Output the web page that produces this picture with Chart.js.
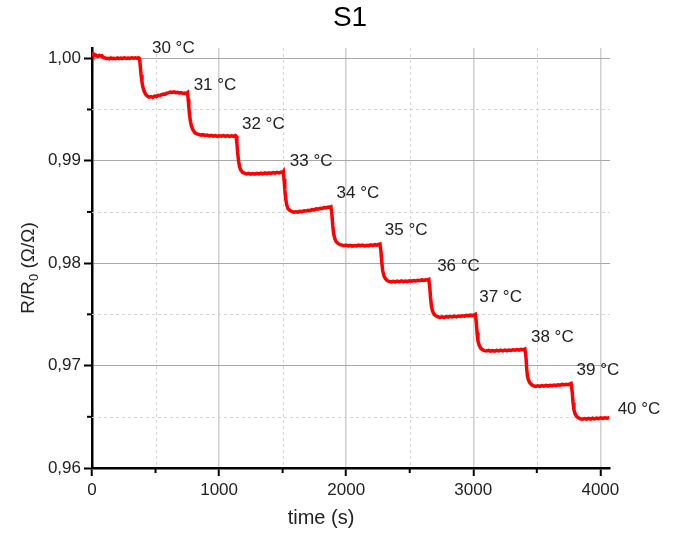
<!DOCTYPE html>
<html>
<head>
<meta charset="utf-8">
<script src="https://cdn.jsdelivr.net/npm/chart.js@4.4.0/dist/chart.umd.min.js"></script>
<style>
  html, body { margin: 0; padding: 0; background: #fff; }
  #wrap { width: 680px; height: 533px; }
</style>
</head>
<body>
<div id="wrap"><canvas id="s1Chart" width="680" height="533"></canvas></div>
<script>
// time (s) and normalised resistance
const timeS = [
  0, 6, 12, 20, 28, 36, 46, 56, 66, 78, 88, 100, 112, 124, 136, 148, 160, 172, 186, 200,
  214, 228, 242, 256, 270, 284, 298, 312, 326, 340, 354, 366, 374,
  380, 386, 393, 400, 410, 422, 436, 450, 464, 478, 492, 506, 520, 534, 548, 562, 576,
  590, 604, 618, 632, 646, 660, 674, 688, 702, 716, 730, 742, 752,
  757, 762, 768, 775, 783, 795, 810, 826, 842, 858, 874, 890, 906, 922, 938, 954, 970,
  986, 1002, 1018, 1034, 1050, 1066, 1082, 1098, 1114, 1128, 1134,
  1140, 1146, 1153, 1161, 1172, 1186, 1200, 1216, 1232, 1248, 1264, 1280, 1296, 1312,
  1328, 1344, 1360, 1376, 1392, 1408, 1424, 1440, 1456, 1472, 1488, 1502, 1506,
  1511, 1517, 1524, 1532, 1543, 1556, 1572, 1588, 1604, 1620, 1636, 1652, 1668, 1684,
  1700, 1716, 1732, 1748, 1764, 1780, 1796, 1812, 1828, 1844, 1858, 1870, 1880,
  1888, 1894, 1901, 1910, 1922, 1936, 1952, 1968, 1984, 2000, 2016, 2032, 2048, 2064,
  2080, 2096, 2112, 2128, 2144, 2160, 2176, 2192, 2208, 2224, 2240, 2254, 2266,
  2274, 2280, 2287, 2296, 2308, 2322, 2338, 2354, 2370, 2386, 2402, 2418, 2434, 2450,
  2466, 2482, 2498, 2514, 2530, 2546, 2562, 2578, 2594, 2610, 2626, 2640, 2650,
  2658, 2664, 2671, 2680, 2692, 2706, 2722, 2738, 2754, 2770, 2786, 2802, 2818, 2834,
  2850, 2866, 2882, 2898, 2914, 2930, 2946, 2962, 2978, 2994, 3008, 3016,
  3024, 3030, 3037, 3046, 3058, 3072, 3088, 3104, 3120, 3136, 3152, 3168, 3184, 3200,
  3216, 3232, 3248, 3264, 3280, 3296, 3312, 3328, 3344, 3360, 3376, 3392, 3406,
  3415, 3420, 3426, 3434, 3446, 3460, 3476, 3492, 3508, 3524, 3540, 3556, 3572, 3588,
  3604, 3620, 3636, 3652, 3668, 3684, 3700, 3716, 3732, 3748, 3762, 3770,
  3779, 3785, 3792, 3801, 3813, 3827, 3843, 3859, 3875, 3891, 3907, 3923, 3939, 3955,
  3971, 3987, 4003, 4019, 4035, 4051, 4070
];
const ratio = [
  1.00060, 1.00045, 1.00040, 1.00030, 1.00032, 1.00022, 1.00018, 1.00028, 1.00020, 1.00024,
  1.00010, 1.00004, 0.99998, 1.00000, 0.99994, 1.00002, 0.99996, 1.00000, 0.99995, 1.00003,
  0.99997, 1.00002, 0.99998, 1.00004, 0.99999, 1.00003, 0.99998, 1.00004, 1.00000, 1.00005,
  0.99999, 1.00004, 0.99996,
  0.99920, 0.99840, 0.99770, 0.99720, 0.99680, 0.99648, 0.99630, 0.99620, 0.99625, 0.99618,
  0.99630, 0.99626, 0.99638, 0.99634, 0.99645, 0.99650, 0.99648, 0.99660, 0.99664, 0.99670,
  0.99666, 0.99672, 0.99664, 0.99668, 0.99660, 0.99664, 0.99656, 0.99660, 0.99654, 0.99664,
  0.99600, 0.99520, 0.99440, 0.99380, 0.99335, 0.99300, 0.99272, 0.99262, 0.99256, 0.99250,
  0.99254, 0.99246, 0.99250, 0.99242, 0.99248, 0.99240, 0.99246, 0.99238, 0.99244, 0.99240,
  0.99246, 0.99238, 0.99244, 0.99236, 0.99242, 0.99238, 0.99246, 0.99240,
  0.99170, 0.99080, 0.99000, 0.98940, 0.98905, 0.98885, 0.98878, 0.98870, 0.98876, 0.98868,
  0.98874, 0.98868, 0.98876, 0.98870, 0.98878, 0.98872, 0.98880, 0.98874, 0.98882, 0.98876,
  0.98884, 0.98878, 0.98886, 0.98880, 0.98888, 0.98882, 0.98890,
  0.98820, 0.98720, 0.98630, 0.98570, 0.98530, 0.98515, 0.98504, 0.98498, 0.98502, 0.98498,
  0.98506, 0.98502, 0.98510, 0.98508, 0.98516, 0.98512, 0.98522, 0.98520, 0.98530, 0.98528,
  0.98536, 0.98534, 0.98542, 0.98540, 0.98548, 0.98544, 0.98550,
  0.98470, 0.98370, 0.98290, 0.98240, 0.98210, 0.98192, 0.98180, 0.98176, 0.98170, 0.98176,
  0.98168, 0.98174, 0.98166, 0.98172, 0.98168, 0.98176, 0.98170, 0.98176, 0.98168, 0.98174,
  0.98170, 0.98178, 0.98172, 0.98180, 0.98176, 0.98182, 0.98186,
  0.98110, 0.98010, 0.97930, 0.97880, 0.97850, 0.97830, 0.97822, 0.97816, 0.97822, 0.97816,
  0.97824, 0.97818, 0.97826, 0.97820, 0.97826, 0.97822, 0.97828, 0.97824, 0.97830, 0.97826,
  0.97832, 0.97828, 0.97836, 0.97832, 0.97838, 0.97834, 0.97840,
  0.97760, 0.97660, 0.97580, 0.97530, 0.97500, 0.97485, 0.97476, 0.97470, 0.97476, 0.97470,
  0.97478, 0.97472, 0.97480, 0.97474, 0.97482, 0.97476, 0.97484, 0.97480, 0.97486, 0.97482,
  0.97490, 0.97486, 0.97492, 0.97488, 0.97496, 0.97500,
  0.97420, 0.97320, 0.97240, 0.97200, 0.97170, 0.97155, 0.97146, 0.97142, 0.97148, 0.97140,
  0.97146, 0.97140, 0.97148, 0.97142, 0.97150, 0.97144, 0.97152, 0.97146, 0.97152, 0.97148,
  0.97154, 0.97150, 0.97156, 0.97150, 0.97158, 0.97154, 0.97162,
  0.97080, 0.96980, 0.96900, 0.96860, 0.96830, 0.96812, 0.96802, 0.96796, 0.96802, 0.96796,
  0.96804, 0.96798, 0.96806, 0.96800, 0.96808, 0.96804, 0.96810, 0.96806, 0.96812, 0.96808,
  0.96816, 0.96812, 0.96818, 0.96814, 0.96822, 0.96826,
  0.96740, 0.96640, 0.96570, 0.96530, 0.96505, 0.96490, 0.96480, 0.96476, 0.96482, 0.96476,
  0.96484, 0.96478, 0.96486, 0.96480, 0.96488, 0.96482, 0.96490, 0.96484, 0.96490, 0.96486,
  0.96490
];

// temperature annotations (text, anchor in data coords: left edge / middle)
const tempLabels = ['30 °C', '31 °C', '32 °C', '33 °C', '34 °C', '35 °C', '36 °C', '37 °C', '38 °C', '39 °C', '40 °C'];
const tempLabelTime = [472, 800, 1180, 1556, 1924, 2304, 2716, 3047, 3454, 3813, 4136];
const tempLabelRatio = [1.00100, 0.99740, 0.99356, 0.98991, 0.98683, 0.98325, 0.97967, 0.97665, 0.97278, 0.96952, 0.96569];

// tick positions
const majorTime = [0, 1000, 2000, 3000, 4000];
const majorRatio = [0.96, 0.97, 0.98, 0.99, 1.00];
const minorTime = [500, 1500, 2500, 3500];
const minorRatio = [0.965, 0.975, 0.985, 0.995];

const FONT = '"Liberation Sans", Arial, sans-serif';

const decor = {
    id: 'decor',
    beforeDatasetsDraw(chart) {
        const { ctx, chartArea: a, scales: { x, y } } = chart;
        ctx.save();
        ctx.strokeStyle = '#d4d4d4';
        ctx.lineWidth = 1;
        ctx.setLineDash([3, 3]);
        minorTime.forEach(t => {
            const px = Math.round(x.getPixelForValue(t)) + 0.5;
            ctx.beginPath(); ctx.moveTo(px, a.top); ctx.lineTo(px, a.bottom); ctx.stroke();
        });
        minorRatio.forEach(r => {
            const py = Math.round(y.getPixelForValue(r)) + 0.5;
            ctx.beginPath(); ctx.moveTo(a.left, py); ctx.lineTo(a.right, py); ctx.stroke();
        });
        ctx.restore();
    },
    afterDraw(chart) {
        const { ctx, chartArea: a, scales: { x, y } } = chart;
        ctx.save();
        // minor ticks
        ctx.strokeStyle = '#000';
        ctx.lineWidth = 2;
        minorTime.forEach(t => {
            const px = x.getPixelForValue(t);
            ctx.beginPath(); ctx.moveTo(px, a.bottom); ctx.lineTo(px, a.bottom + 5); ctx.stroke();
        });
        minorRatio.forEach(r => {
            const py = y.getPixelForValue(r);
            ctx.beginPath(); ctx.moveTo(a.left, py); ctx.lineTo(a.left - 5, py); ctx.stroke();
        });

        // temperature labels
        ctx.fillStyle = '#222';
        ctx.font = '17px ' + FONT;
        ctx.textAlign = 'left';
        ctx.textBaseline = 'middle';
        tempLabels.forEach((txt, i) => {
            ctx.fillText(txt, x.getPixelForValue(tempLabelTime[i]), y.getPixelForValue(tempLabelRatio[i]));
        });

        // title
        ctx.fillStyle = '#000';
        ctx.textAlign = 'center';
        ctx.font = '28px ' + FONT;
        ctx.fillText('S1', 350, 18);

        // x axis title
        ctx.fillStyle = '#222';
        ctx.font = '20px ' + FONT;
        ctx.fillText('time (s)', 321, 518);

        // y axis title with subscript
        ctx.translate(27, 268);
        ctx.rotate(-Math.PI / 2);
        const big = '19px ' + FONT, small = '13px ' + FONT;
        ctx.font = big;
        const w1 = ctx.measureText('R/R').width;
        const w3 = ctx.measureText(' (Ω/Ω)').width;
        ctx.font = small;
        const w2 = ctx.measureText('0').width;
        let sx = -(w1 + w2 + w3) / 2;
        ctx.textAlign = 'left';
        ctx.textBaseline = 'alphabetic';
        ctx.font = big;
        ctx.fillText('R/R', sx, 7);
        ctx.font = small;
        ctx.fillText('0', sx + w1, 11);
        ctx.font = big;
        ctx.fillText(' (Ω/Ω)', sx + w1 + w2, 7);
        ctx.restore();
    }
};

const ctx = document.getElementById('s1Chart').getContext('2d');
new Chart(ctx, {
    type: 'line',
    data: {
        datasets: [{
            data: timeS.map((t, i) => ({ x: t, y: ratio[i] })),
            borderColor: '#ff0000',
            borderWidth: 3.5,
            pointRadius: 0,
            tension: 0,
            fill: false
        }]
    },
    options: {
        responsive: false,
        animation: false,
        layout: { padding: { top: 48, right: 70, left: 0, bottom: 0 } },
        plugins: {
            legend: { display: false },
            title: { display: false },
            tooltip: { enabled: false }
        },
        scales: {
            x: {
                type: 'linear',
                min: 0,
                max: 4076,
                afterBuildTicks: s => { s.ticks = majorTime.map(v => ({ value: v })); },
                afterFit: s => { s.height = 65; },
                ticks: {
                    autoSkip: false,
                    maxRotation: 0,
                    padding: 4,
                    color: '#222',
                    font: { family: FONT, size: 17 },
                    callback: v => String(v)
                },
                grid: { color: '#cfcfcf', lineWidth: 1.5, tickColor: '#000', tickLength: 8, tickWidth: 2 },
                border: { color: '#000', width: 2.5 }
            },
            y: {
                min: 0.96,
                max: 1.001,
                afterBuildTicks: s => { s.ticks = majorRatio.map(v => ({ value: v })); },
                afterFit: s => { s.width = 92; },
                ticks: {
                    autoSkip: false,
                    padding: 3,
                    color: '#222',
                    font: { family: FONT, size: 17 },
                    callback: v => v.toFixed(2).replace('.', ',')
                },
                grid: { color: '#a8a8a8', lineWidth: 1, tickColor: '#000', tickLength: 8, tickWidth: 2 },
                border: { color: '#000', width: 2.5 }
            }
        }
    },
    plugins: [decor]
});
</script>
</body>
</html>
